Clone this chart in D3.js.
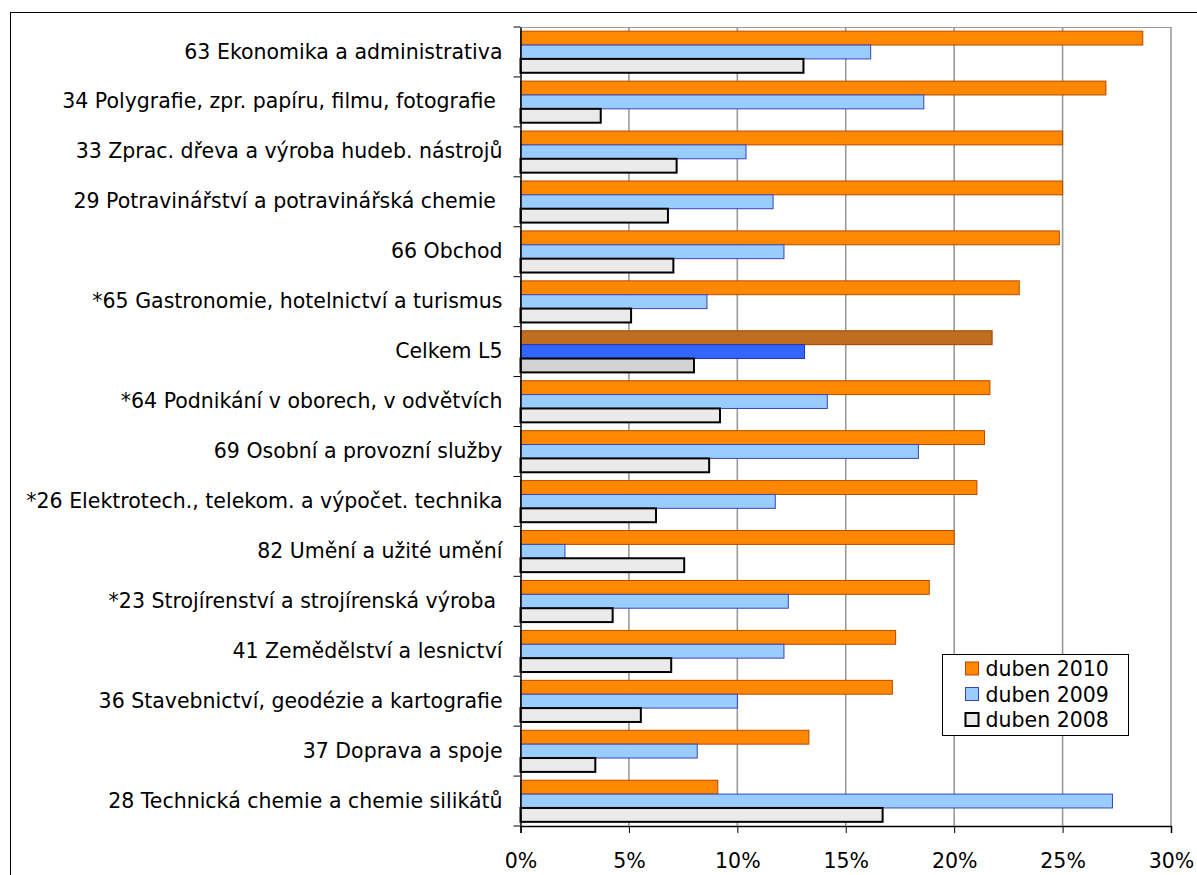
<!DOCTYPE html>
<html><head><meta charset="utf-8">
<script src="https://cdn.jsdelivr.net/npm/d3@7"></script>
<style>
html,body{margin:0;padding:0;background:#fff;}
svg{display:block;font-family:"DejaVu Sans",Verdana,sans-serif;}
svg text{white-space:pre;}
</style></head>
<body>
<svg id="chart" width="1197" height="875"></svg>
<script>
const categories = [
  "63 Ekonomika a administrativa",
  "34 Polygrafie, zpr. papíru, filmu, fotografie ",
  "33 Zprac. dřeva a výroba hudeb. nástrojů",
  "29 Potravinářství a potravinářská chemie ",
  "66 Obchod",
  "*65 Gastronomie, hotelnictví a turismus",
  "Celkem L5",
  "*64 Podnikání v oborech, v odvětvích",
  "69 Osobní a provozní služby",
  "*26 Elektrotech., telekom. a výpočet. technika",
  "82 Umění a užité umění",
  "*23 Strojírenství a strojírenská výroba ",
  "41 Zemědělství a lesnictví",
  "36 Stavebnictví, geodézie a kartografie",
  "37 Doprava a spoje",
  "28 Technická chemie a chemie silikátů"
];
const seriesNames = ["duben 2010", "duben 2009", "duben 2008"];
const duben2010 = [28.7, 27.0, 25.0, 25.0, 24.85, 23.0, 21.75, 21.65, 21.4, 21.05, 20.0, 18.85, 17.3, 17.15, 13.3, 9.1];
const duben2009 = [16.15, 18.6, 10.4, 11.65, 12.15, 8.6, 13.1, 14.15, 18.35, 11.75, 2.05, 12.35, 12.15, 10.0, 8.15, 27.3];
const duben2008 = [13.05, 3.7, 7.2, 6.8, 7.05, 5.1, 8.0, 9.2, 8.7, 6.25, 7.55, 4.25, 6.95, 5.55, 3.45, 16.7];
const xTicks = [0, 5, 10, 15, 20, 25, 30];
const highlight = "Celkem L5";

const styles = {
  "duben 2010": {fill: "#FF8800", stroke: "#B84A00", sw: 1},
  "duben 2009": {fill: "#99CCFF", stroke: "#3A44B8", sw: 1},
  "duben 2008": {fill: "#EAEAEA", stroke: "#000000", sw: 2}
};
const hiStyles = {
  "duben 2010": {fill: "#BF6E20", stroke: "#A04000", sw: 1},
  "duben 2009": {fill: "#3366FF", stroke: "#2233AA", sw: 1},
  "duben 2008": {fill: "#D3D3D3", stroke: "#000000", sw: 2}
};

const values = {"duben 2010": duben2010, "duben 2009": duben2009, "duben 2008": duben2008};
const FS = 20.5;
const svg = d3.select("#chart");

// outer frame
svg.append("rect").attr("x", 10.5).attr("y", 12.5).attr("width", 1196).attr("height", 900)
  .attr("fill", "none").attr("stroke", "#000").attr("stroke-width", 1);

const pLeft = 520.5, pRight = 1171, pTop = 27, pBottom = 826;
const x = d3.scaleLinear().domain([0, 30]).range([pLeft, pRight]);
const y = d3.scaleBand().domain(categories).range([pTop, pBottom]).paddingInner(0).paddingOuter(0);
const ys = d3.scaleBand().domain(seriesNames).range([0, y.bandwidth()]).paddingInner(0).paddingOuter(0.3);

// gridlines
svg.append("g").selectAll("line").data(xTicks.slice(1)).join("line")
  .attr("x1", d => x(d)).attr("x2", d => x(d)).attr("y1", pTop).attr("y2", pBottom)
  .attr("stroke", "#9a9a9a").attr("stroke-width", 1.6);
svg.append("line").attr("x1", pLeft).attr("x2", pRight).attr("y1", pTop + 0.5).attr("y2", pTop + 0.5)
  .attr("stroke", "#9a9a9a").attr("stroke-width", 1.2);

// bars
const data = [];
categories.forEach((c, i) => seriesNames.forEach(s => data.push({c, s, v: values[s][i]})));
svg.append("g").selectAll("rect").data(data).join("rect")
  .attr("x", x(0))
  .attr("y", d => y(d.c) + ys(d.s))
  .attr("width", d => x(d.v) - x(0))
  .attr("height", ys.bandwidth())
  .attr("fill", d => (d.c === highlight ? hiStyles : styles)[d.s].fill)
  .attr("stroke", d => (d.c === highlight ? hiStyles : styles)[d.s].stroke)
  .attr("stroke-width", d => (d.c === highlight ? hiStyles : styles)[d.s].sw);

// left axis
const yAxis = d3.axisLeft(y).tickSize(0).tickPadding(18);
const gy = svg.append("g").attr("transform", `translate(${pLeft},0)`).call(yAxis);
gy.select(".domain").attr("stroke", "#000").attr("stroke-width", 1.5);
gy.selectAll("text").attr("font-size", FS).attr("fill", "#000").attr("font-family", "DejaVu Sans, Verdana, sans-serif");
// band boundary ticks
const bounds = categories.map(c => y(c)).concat([pBottom]);
svg.append("g").selectAll("line").data(bounds).join("line")
  .attr("x1", pLeft - 7).attr("x2", pLeft).attr("y1", d => d).attr("y2", d => d)
  .attr("stroke", "#000").attr("stroke-width", 1);

// bottom axis
const xAxis = d3.axisBottom(x).tickValues(xTicks).tickFormat(d => d + "%").tickSize(7).tickPadding(20);
const gx = svg.append("g").attr("transform", `translate(0,${pBottom})`).call(xAxis);
gx.select(".domain").attr("stroke", "#000").attr("stroke-width", 1.5);
gx.selectAll(".tick line").attr("stroke", "#000");
gx.selectAll("text").attr("font-size", FS).attr("fill", "#000").attr("font-family", "DejaVu Sans, Verdana, sans-serif");

// legend
const lg = svg.append("g").attr("transform", "translate(942.5,654.5)");
lg.append("rect").attr("width", 186).attr("height", 81).attr("fill", "#fff").attr("stroke", "#000").attr("stroke-width", 1);
seriesNames.forEach((s, i) => {
  const yy = 14.5 + i * 25.5;
  lg.append("rect").attr("x", 23).attr("y", yy - 7).attr("width", 13).attr("height", 13)
    .attr("fill", styles[s].fill).attr("stroke", styles[s].stroke).attr("stroke-width", styles[s].sw);
  lg.append("text").attr("x", 43).attr("y", yy).attr("dy", "0.35em").attr("font-size", FS).text(s);
});
</script>
</body></html>
